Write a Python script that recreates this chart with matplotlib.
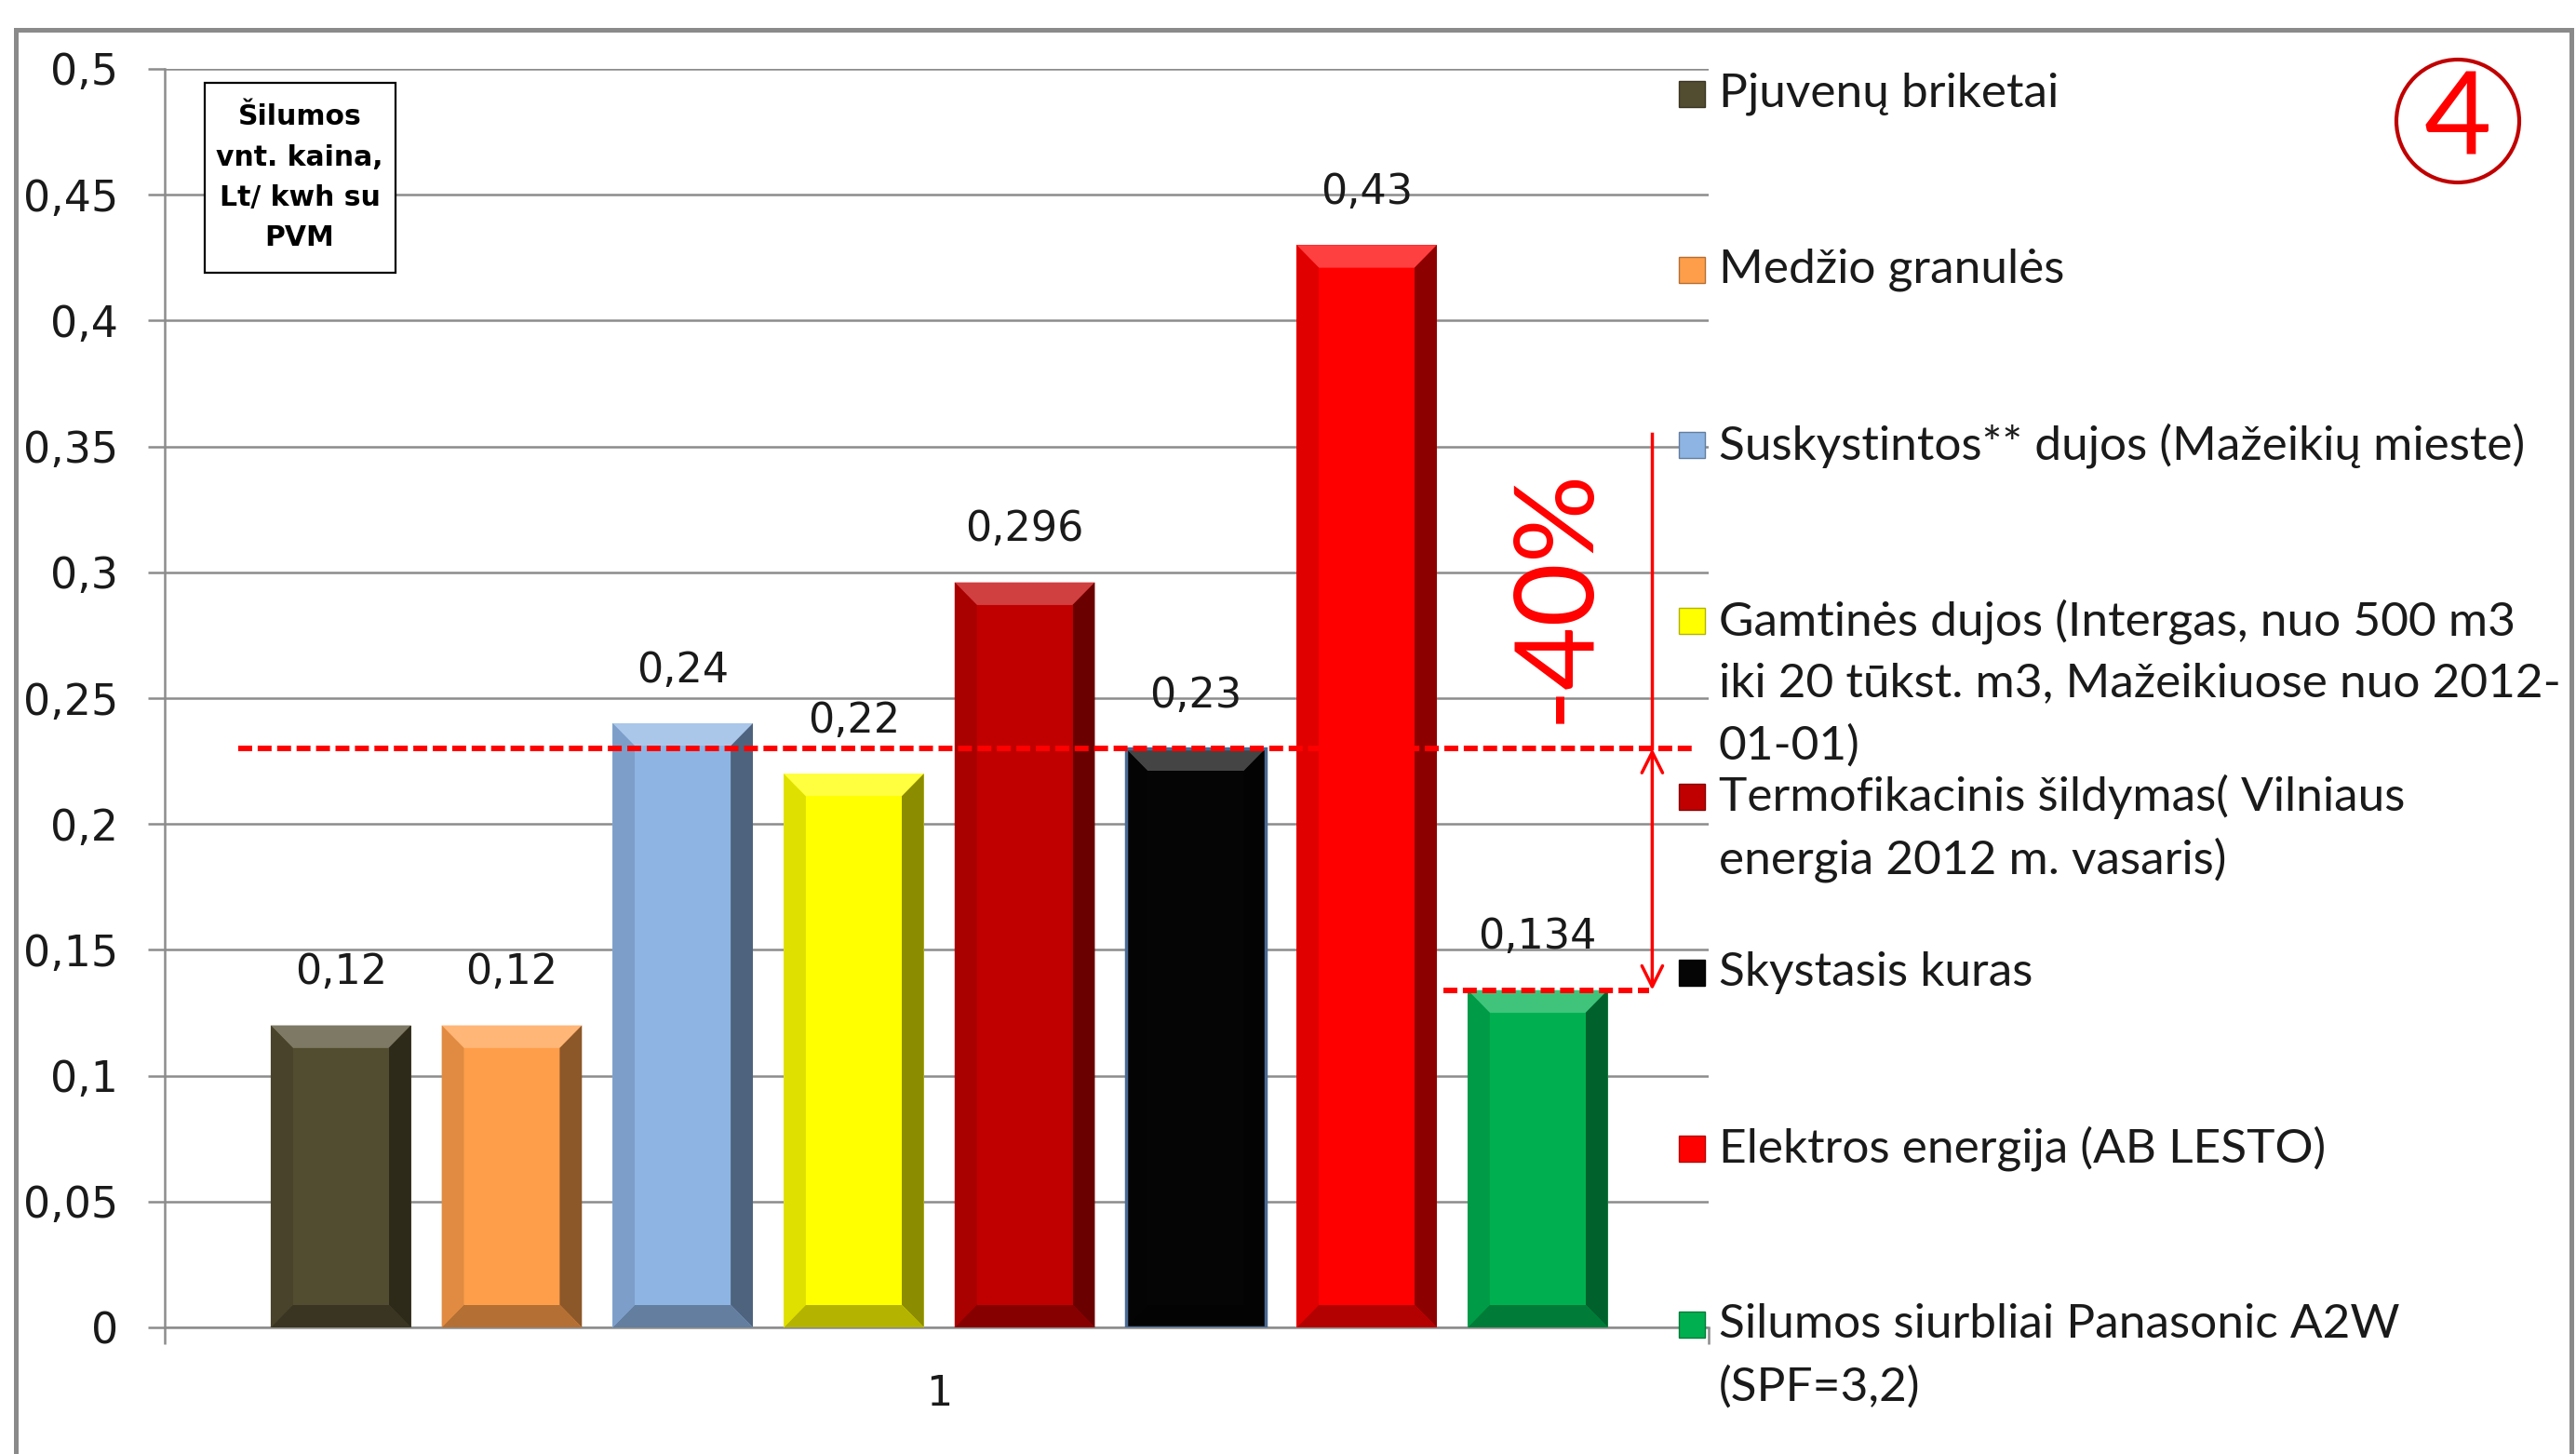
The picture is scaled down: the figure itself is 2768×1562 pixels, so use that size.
import matplotlib.pyplot as plt
from matplotlib.patches import Rectangle, Ellipse
from matplotlib.colors import to_rgb

# ---------------- data ----------------
series_names = [
    "Pjuvenų briketai",
    "Medžio granulės",
    "Suskystintos** dujos (Mažeikių mieste)",
    "Gamtinės dujos (Intergas, nuo 500 m3\niki 20 tūkst. m3, Mažeikiuose nuo 2012-\n01-01)",
    "Termofikacinis šildymas( Vilniaus\nenergia 2012 m. vasaris)",
    "Skystasis kuras",
    "Elektros energija (AB LESTO)",
    "Silumos siurbliai Panasonic A2W\n(SPF=3,2)",
]
values = [0.12, 0.12, 0.24, 0.22, 0.296, 0.23, 0.43, 0.134]
value_labels = ["0,12", "0,12", "0,24", "0,22", "0,296", "0,23", "0,43", "0,134"]
colors = ["#524C30", "#FF9E4A", "#8DB4E3", "#FFFF00", "#C00000", "#050505", "#FF0000", "#00B050"]
edge_colors = ["none", "none", "none", "none", "none", "#4A6A93", "none", "none"]
y_ticks = [0, 0.05, 0.1, 0.15, 0.2, 0.25, 0.3, 0.35, 0.4, 0.45, 0.5]
y_tick_labels = ["0", "0,05", "0,1", "0,15", "0,2", "0,25", "0,3", "0,35", "0,4", "0,45", "0,5"]
category = "1"
ref_level = values[5]   # skystasis kuras
hp_level = values[7]    # silumos siurbliai
box_title = ["Šilumos", "vnt. kaina,", "Lt/ kwh su", "PVM"]

W, H = 2768, 1562
def fx(px):
    return px / W
def fy(py):
    return 1 - py / H

def mix(c, other, t):
    a = to_rgb(c)
    b = to_rgb(other)
    return tuple(a[i] * (1 - t) + b[i] * t for i in range(3))

fig = plt.figure(figsize=(W / 100, H / 100), dpi=100)
fig.patch.set_facecolor("white")
ax = fig.add_axes([fx(177), fy(1426), (1836 - 177) / W, (1426 - 74) / H])

GRID = "#8C8C8C"
x = list(range(len(values)))
bw = 0.82
ax.bar(x, values, width=bw, color=colors, zorder=3)

# bevel look
bx, by = 0.13, 0.009
for xi, h, c, ec in zip(x, values, colors, edge_colors):
    x0, x1 = xi - bw / 2, xi + bw / 2
    ax.fill([x0, x1, x1 - bx, x0 + bx], [h, h, h - by, h - by], color=mix(c, "white", 0.25), lw=0, zorder=4)
    ax.fill([x1, x1, x1 - bx, x1 - bx], [h, 0, by, h - by], color=mix(c, "black", 0.45), lw=0, zorder=4)
    ax.fill([x0, x1, x1 - bx, x0 + bx], [0, 0, by, by], color=mix(c, "black", 0.3), lw=0, zorder=4)
    ax.fill([x0, x0, x0 + bx, x0 + bx], [0, h, h - by, by], color=mix(c, "black", 0.12), lw=0, zorder=4)
    ax.fill([x0 + bx, x1 - bx, x1 - bx, x0 + bx], [by, by, h - by, h - by], color=c, lw=0, zorder=4)
    if ec != "none":
        ax.bar(xi, h, width=bw, facecolor="none", edgecolor=ec, lw=2.5, zorder=4.5)

for xi, v, lbl in zip(x, values, value_labels):
    ax.annotate(lbl, (xi, v), xytext=(0, 41), textcoords="offset points",
                ha="center", va="center", fontsize=32, color="#1A1A1A")

ax.set_xlim(-1.03, 8.0)
ax.set_ylim(0, 0.5)
ax.set_yticks(y_ticks)
ax.set_yticklabels(y_tick_labels, fontsize=33, color="#1A1A1A")
ax.tick_params(axis="y", direction="out", length=13, width=1.8, color=GRID, pad=23)
ax.set_xticks([3.5])
ax.set_xticklabels([category], fontsize=32, color="#1A1A1A")
ax.tick_params(axis="x", which="major", length=0, pad=36)
ax.set_xticks([-1.03, 8.0], minor=True)
ax.tick_params(axis="x", which="minor", direction="out", length=13, width=1.8, color=GRID)
ax.grid(axis="y", color=GRID, lw=1.8, zorder=0)
ax.set_axisbelow(True)
for s in ["top", "right"]:
    ax.spines[s].set_visible(False)
for s in ["left", "bottom"]:
    ax.spines[s].set_color(GRID)
    ax.spines[s].set_linewidth(1.8)

# reference lines and -40% arrow
ax.plot([-0.6, 7.91], [ref_level, ref_level], color="#FF0000", lw=4.3, ls=(0, (2.5, 1)), zorder=6, clip_on=False)
ax.plot([6.45, 7.65], [hp_level, hp_level], color="#FF0000", lw=4.3, ls=(0, (2.5, 1)), zorder=6)
ax.plot([7.67, 7.67], [0.355, ref_level], color="#FF0000", lw=2.5, zorder=6)
ax.annotate("", xy=(7.67, hp_level), xytext=(7.67, ref_level),
            arrowprops=dict(arrowstyle="<->", color="#FF0000", lw=2.5, mutation_scale=40,
                            shrinkA=0, shrinkB=0), zorder=6)
ax.text(7.11, 0.291, "-40%", rotation=90, color="#FF0000", fontsize=85,
        family="Lato", ha="center", va="center", zorder=6)

# legend drawn by hand
first_line = [100.6 + 188.9 * i for i in range(len(series_names))]
for name, c, yc in zip(series_names, colors, first_line):
    fig.add_artist(Rectangle((fx(1804), fy(yc + 14)), 28 / W, 28 / H,
                             facecolor=c, edgecolor=mix(c, "black", 0.3), lw=1, zorder=5))
    for j, line in enumerate(name.split("\n")):
        fig.text(fx(1847), fy(yc + 67 * j), line, fontsize=37, family="Lato",
                 color="#1A1A1A", ha="left", va="center")

# title box
fig.add_artist(Rectangle((fx(220), fy(293)), 205 / W, 204 / H, facecolor="white",
                         edgecolor="black", lw=1.6, zorder=5))
for j, line in enumerate(box_title):
    fig.text(fx(322), fy(126 + 43 * j), line, fontsize=21.5, fontweight="bold",
             ha="center", va="center", zorder=6)

# circled number
fig.add_artist(Ellipse((fx(2641), fy(130)), 132 / W, 132 / H, facecolor="none",
                       edgecolor="#C00000", lw=3, zorder=5))
fig.text(fx(2641), fy(130), "4", fontsize=90, family="Lato", color="#FF0000",
         ha="center", va="center", zorder=6)

# outer frame
fig.add_artist(Rectangle((fx(17), -0.05), (2763 - 17) / W, fy(32) + 0.05, facecolor="none",
                         edgecolor="#8A8A8A", lw=3.6, zorder=5))

fig.savefig("out.png", dpi=100)
